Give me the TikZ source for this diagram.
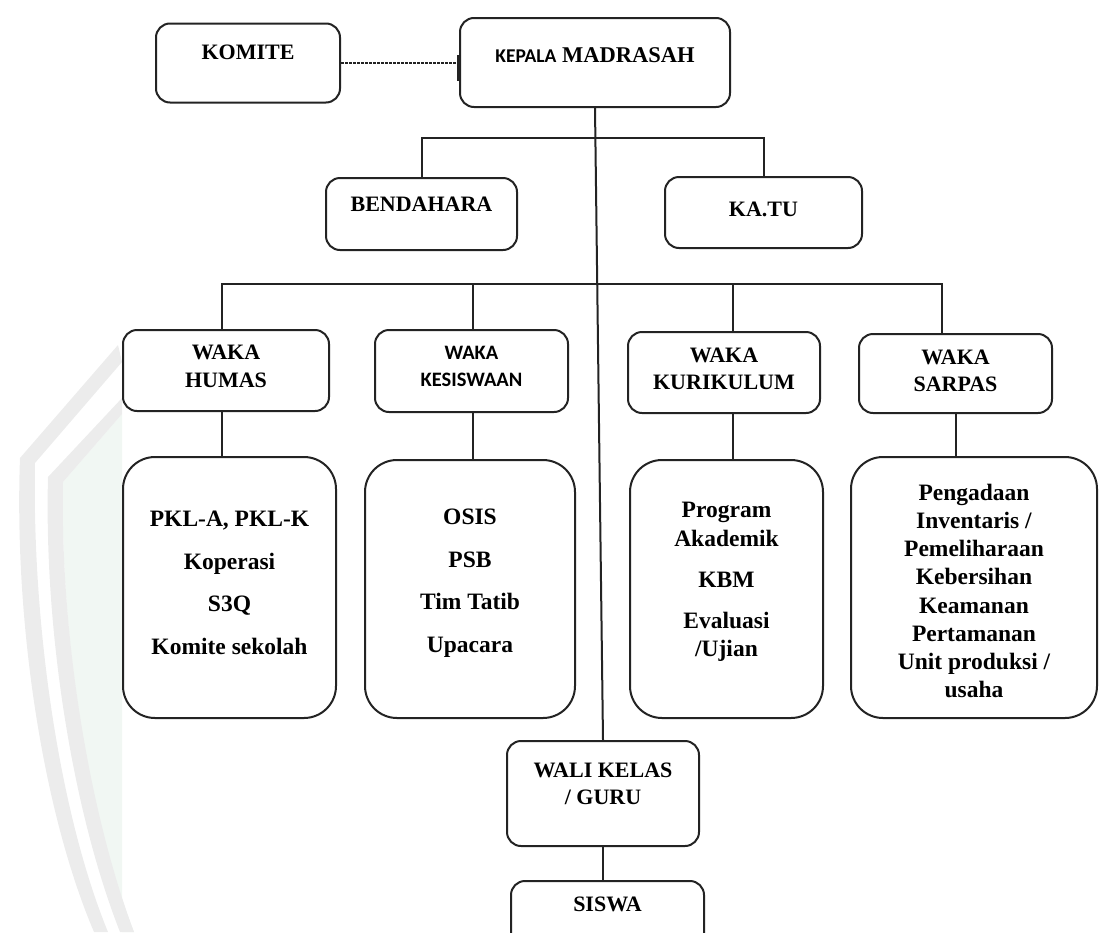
\documentclass[tikz,border=0pt]{standalone}
\usepackage{fontspec}
\setmainfont{Liberation Serif}
\newfontfamily\calfont{Carlito}
\definecolor{wmgray}{RGB}{236,236,236}
\definecolor{wmgreen}{RGB}{241,247,243}
\definecolor{ink}{RGB}{35,35,35}
\tikzset{
  orgbox/.style={draw=ink,line width=2pt,rounded corners=14pt,inner sep=0pt},
  listbox/.style={orgbox,rounded corners=32pt},
  orgtext/.style={align=center,inner sep=0pt,text=black,font=\fontsize{22}{27.5}\selectfont\bfseries},
  listtext/.style={orgtext,font=\fontsize{23.5}{28.5}\selectfont\bfseries},
  link/.style={draw=ink,line width=2pt}
}
\begin{document}
\begin{tikzpicture}[x=1pt,y=-1pt]
\useasboundingbox (0,0) rectangle (1105,932);
\clip (0,0) rectangle (1105,932);
% watermark
\fill[wmgreen] (63,482) .. controls (60,640) and (90,820) .. (134,932) -- (122,932) -- (122,414) -- cycle;
\fill[wmgray] (118,345) -- (20,458) .. controls (14,620) and (42,810) .. (94,932) -- (108,932) .. controls (58,810) and (32,620) .. (35,463) -- (122,362) -- cycle;
\fill[wmgray] (122,398) -- (48,477) .. controls (44,630) and (72,810) .. (120,932) -- (134,932) .. controls (88,810) and (60,630) .. (63,482) -- (122,414) -- cycle;

% top
\node[orgbox,minimum width=184pt,minimum height=79pt] (komite) at (248,63) {};
\node[orgtext] (komiteT) at (248,52) {KOMITE};
\node[orgbox,minimum width=270pt,minimum height=89pt] (kepala) at (595,62.5) {};
\node[orgtext,font=\fontsize{22.5}{27}\selectfont\bfseries] (kepalaT) at (595,55) {{\calfont\fontsize{19.5}{24}\selectfont KEPALA} MADRASAH};
\node[orgbox,minimum width=191pt,minimum height=72pt] (bendahara) at (421.5,214) {};
\node[orgtext] (bendaharaT) at (421.5,204) {BENDAHARA};
\node[orgbox,minimum width=197pt,minimum height=71pt] (katu) at (763.5,212.5) {};
\node[orgtext] (katuT) at (763.5,209) {KA.TU};

% waka
\node[orgbox,minimum width=206pt,minimum height=81pt] (humas) at (226,370.5) {};
\node[orgtext] (humasT) at (226,366.5) {WAKA\\HUMAS};
\node[orgbox,minimum width=193pt,minimum height=82pt] (kesiswaan) at (471.5,371) {};
\node[orgtext,font=\calfont\fontsize{20.5}{27}\selectfont\bfseries] (kesiswaanT) at (471.5,366.5) {WAKA\\KESISWAAN};
\node[orgbox,minimum width=192pt,minimum height=81pt] (kurikulum) at (724,372.5) {};
\node[orgtext] (kurikulumT) at (724,369) {WAKA\\KURIKULUM};
\node[orgbox,minimum width=193pt,minimum height=79pt] (sarpas) at (955.5,373.5) {};
\node[orgtext] (sarpasT) at (955.5,371) {WAKA\\SARPAS};

% tugas
\node[listbox,minimum width=213pt,minimum height=261pt] (humasList) at (229.5,587.5) {};
\node[listtext] (humasListT) at (229.5,583) {PKL-A, PKL-K\\[14pt]Koperasi\\[14pt]S3Q\\[14pt]Komite sekolah};
\node[listbox,minimum width=210pt,minimum height=258pt] (kesiswaanList) at (470,589) {};
\node[listtext] (kesiswaanListT) at (470,583) {OSIS\\[14pt]PSB\\[14pt]Tim Tatib\\[14pt]Upacara};
\node[listbox,minimum width=193pt,minimum height=258pt] (kurikulumList) at (726.5,589) {};
\node[listtext] (kurikulumListT) at (726.5,582) {Program\\Akademik\\[13pt]KBM\\[12pt]Evaluasi\\/Ujian};
\node[listbox,minimum width=246pt,minimum height=261pt] (sarpasList) at (974,587.5) {};
\node[listtext,font=\fontsize{23.5}{28.2}\selectfont\bfseries] (sarpasListT) at (974,591) {Pengadaan\\Inventaris /\\Pemeliharaan\\Kebersihan\\Keamanan\\Pertamanan\\Unit produksi /\\usaha};

% bottom
\node[orgbox,minimum width=192pt,minimum height=105pt] (wali) at (603,793.5) {};
\node[orgtext] (waliT) at (603,784) {WALI KELAS\\/ GURU};
\node[orgbox,minimum width=193pt,minimum height=78pt] (siswa) at (607.5,920) {};
\node[orgtext] (siswaT) at (607.5,904) {SISWA};

% connectors
\draw[ink,line width=1.3pt,dash pattern=on 2.5pt off 1.5pt] (komite.east) -- (komite.east -| kepala.west);
\draw[ink,line width=4pt] ([yshift=8pt]kepala.west) -- ([yshift=-18pt]kepala.west);
\draw[link] (kepala.south) -- (wali.north);
\coordinate (busTop) at (421.5,138);
\draw[link] (bendahara.north) -- (busTop) -- (busTop -| katu.north) -- (katu.north);
\coordinate (busL) at (222,284);
\coordinate (busR) at (942,284);
\coordinate (dropK) at (473,284);
\coordinate (dropU) at (733,284);
\draw[link] (busL |- humas.north) -- (busL) -- (busR) -- (busR |- sarpas.north);
\draw[link] (dropK) -- (dropK |- kesiswaan.north);
\draw[link] (dropU) -- (dropU |- kurikulum.north);
\draw[link] (busL |- humas.south) -- (busL |- humasList.north);
\draw[link] (dropK |- kesiswaan.south) -- (dropK |- kesiswaanList.north);
\draw[link] (dropU |- kurikulum.south) -- (dropU |- kurikulumList.north);
\draw[link] (sarpas.south) -- (sarpas.south |- sarpasList.north);
\draw[link] (wali.south) -- (wali.south |- siswa.north);
\end{tikzpicture}
\end{document}
